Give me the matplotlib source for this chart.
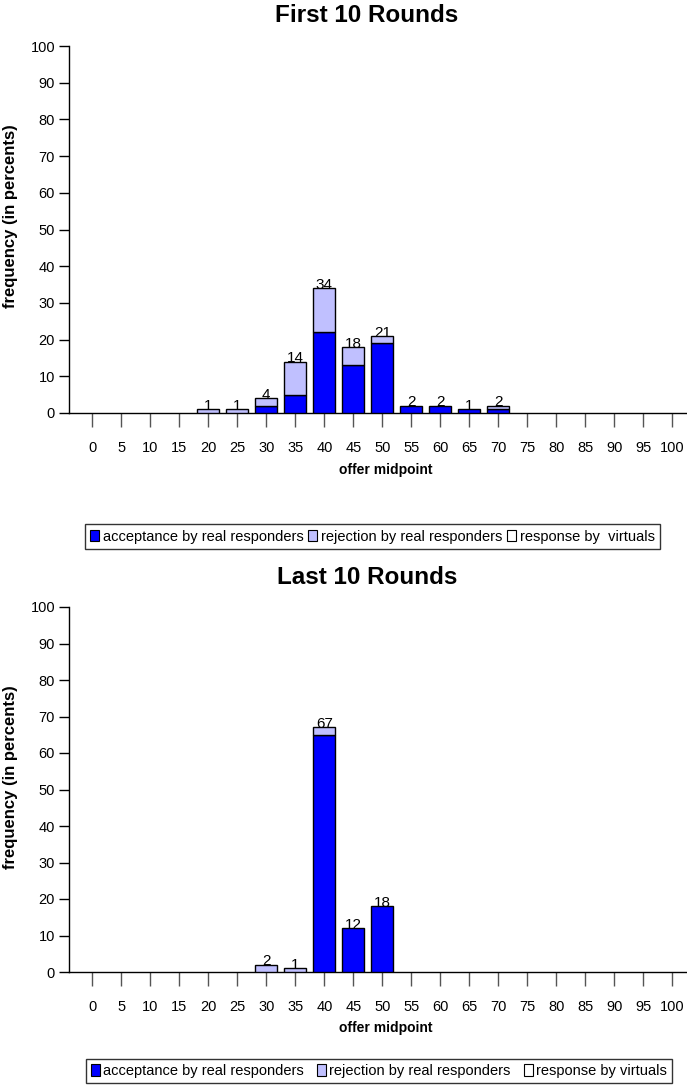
import matplotlib
matplotlib.use("Agg")
import matplotlib.pyplot as plt
from matplotlib.patches import Patch
import numpy as np

plt.rcParams['font.family'] = ['Liberation Sans', 'DejaVu Sans']

midpoints = [0, 5, 10, 15, 20, 25, 30, 35, 40, 45, 50, 55, 60, 65, 70, 75, 80, 85, 90, 95, 100]
tick_labels = [str(m) for m in midpoints]

first_accept = [0, 0, 0, 0, 0, 0, 2, 5, 22, 13, 19, 2, 2, 1, 1, 0, 0, 0, 0, 0, 0]
first_reject = [0, 0, 0, 0, 1, 1, 2, 9, 12, 5, 2, 0, 0, 0, 1, 0, 0, 0, 0, 0, 0]
first_virtual = [0] * 21
first_totals = [None, None, None, None, 1, 1, 4, 14, 34, 18, 21, 2, 2, 1, 2, None, None, None, None, None, None]

last_accept = [0, 0, 0, 0, 0, 0, 0, 0, 65, 12, 18, 0, 0, 0, 0, 0, 0, 0, 0, 0, 0]
last_reject = [0, 0, 0, 0, 0, 0, 2, 1, 2, 0, 0, 0, 0, 0, 0, 0, 0, 0, 0, 0, 0]
last_virtual = [0] * 21
last_totals = [None, None, None, None, None, None, 2, 1, 67, 12, 18, None, None, None, None, None, None, None, None, None, None]

C_ACC = '#0000FF'
C_REJ = '#C0C0FF'
C_VIR = '#FFFFFF'

fig = plt.figure(figsize=(6.87, 10.88), dpi=100)

W = 687.0
H = 1088.0


def panel(top_px, bot_px, title, title_y, acc, rej, vir, totals, legend_labels, leg_box, colsp):
    left = 69 / W
    ax = fig.add_axes([left, 1 - bot_px / H, 1 - left, (bot_px - top_px) / H])
    x = np.arange(len(midpoints))
    acc = np.array(acc, float)
    rej = np.array(rej, float)
    vir = np.array(vir, float)
    w = 0.76
    for i in range(len(x)):
        if acc[i] > 0:
            ax.bar(x[i], acc[i], w, color=C_ACC, edgecolor='black', linewidth=1.0, zorder=3)
        if rej[i] > 0:
            ax.bar(x[i], rej[i], w, bottom=acc[i], color=C_REJ, edgecolor='black', linewidth=1.0, zorder=3)
        if vir[i] > 0:
            ax.bar(x[i], vir[i], w, bottom=acc[i] + rej[i], color=C_VIR, edgecolor='black', linewidth=1.0, zorder=3)
        if totals[i] is not None:
            ax.text(x[i], acc[i] + rej[i] + vir[i] - 1.0, str(totals[i]), ha='center', va='bottom',
                    fontsize=11, zorder=4)
    ax.set_xlim(-0.8, 20.5)
    ax.set_ylim(0, 100)
    ax.set_yticks(range(0, 101, 10))
    ax.set_xticks(x)
    ax.set_xticklabels(tick_labels, fontsize=10.5)
    ax.tick_params(axis='y', labelsize=10.5, length=7, width=1, direction='out', pad=3)
    ax.tick_params(axis='x', length=10, width=1, color='#555555', direction='out', pad=10)
    for s in ['top', 'right']:
        ax.spines[s].set_visible(False)
    ax.spines['left'].set_linewidth(1)
    ax.spines['bottom'].set_linewidth(1)
    ax.set_xlabel('offer midpoint', fontsize=10, fontweight='bold', labelpad=1)
    ax.xaxis.set_label_coords((386 - 69) / (W - 69), -0.135)
    ax.set_ylabel('frequency (in percents)', fontsize=12, fontweight='bold')
    ax.yaxis.set_label_coords(-(69 - 18) / (W - 69), (bot_px - (top_px + 170)) / (bot_px - top_px))
    fig.text(367 / W, 1 - title_y / H, title, ha='center', va='center', fontsize=17.5, fontweight='bold')

    handles = [Patch(facecolor=C_ACC, edgecolor='black', linewidth=0.8),
               Patch(facecolor=C_REJ, edgecolor='black', linewidth=0.8),
               Patch(facecolor=C_VIR, edgecolor='black', linewidth=0.8)]
    x0, y0, x1, y1 = leg_box
    leg = fig.legend(handles, legend_labels, ncol=3, loc='center',
                     bbox_to_anchor=(((x0 + x1) / 2) / W, 1 - ((y0 + y1) / 2) / H),
                     fontsize=10.5, handlelength=0.6, handleheight=0.8, handletextpad=0.25,
                     columnspacing=colsp, frameon=True, fancybox=False, borderpad=0.35,
                     borderaxespad=0, edgecolor='black')
    leg.get_frame().set_linewidth(1.0)
    return ax


panel(46, 413, 'First 10 Rounds', 16, first_accept, first_reject, first_virtual, first_totals,
      ['acceptance by real responders', 'rejection by real responders', 'response by  virtuals'],
      (80, 524, 665, 549), 0.35)
panel(607, 972, 'Last 10 Rounds', 577, last_accept, last_reject, last_virtual, last_totals,
      ['acceptance by real responders', 'rejection by real responders', 'response by virtuals'],
      (80, 1056, 678, 1086), 0.9)

fig.savefig('out.png', dpi=100)
